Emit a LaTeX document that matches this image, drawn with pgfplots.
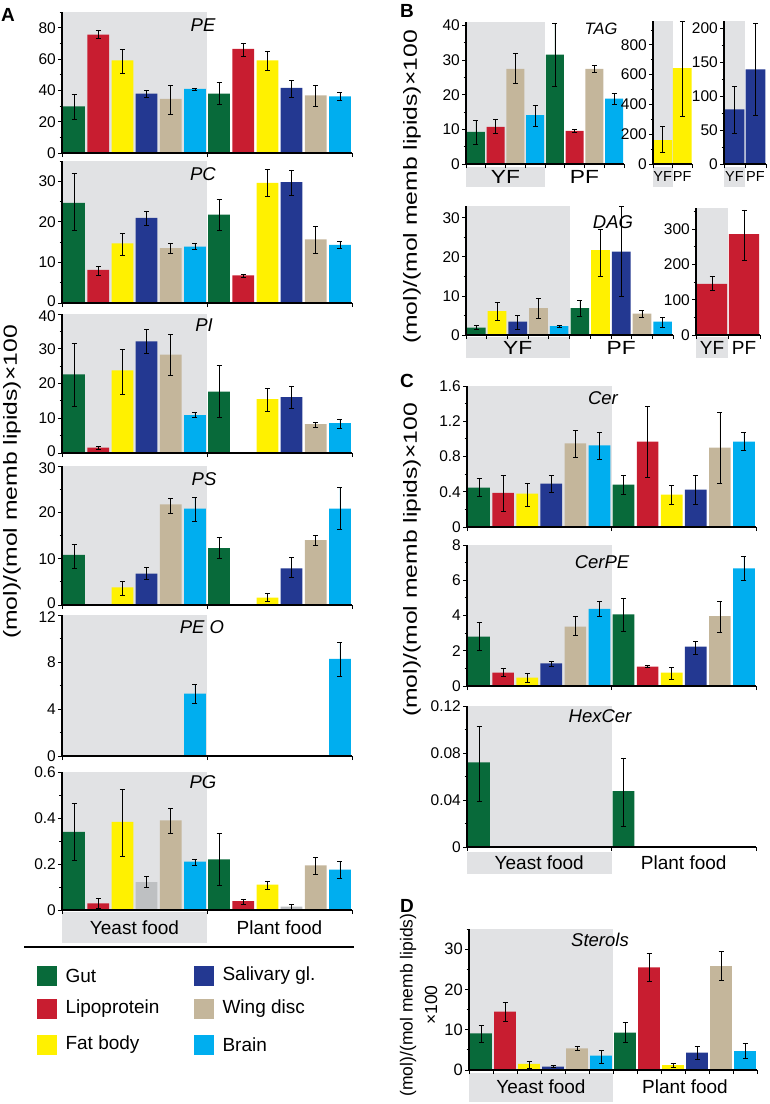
\documentclass[border=0pt]{standalone}
\usepackage{pgfplots}
\pgfplotsset{compat=1.18}
\usepackage{fontspec}
\setmainfont{Liberation Sans}
\setsansfont{Liberation Sans}
\definecolor{cG}{RGB}{8,106,58}
\definecolor{cR}{RGB}{200,29,48}
\definecolor{cY}{RGB}{255,241,0}
\definecolor{cB}{RGB}{35,56,145}
\definecolor{cW}{RGB}{196,182,155}
\definecolor{cC}{RGB}{0,174,239}
\definecolor{cK}{RGB}{190,192,194}
\definecolor{bg}{RGB}{225,226,228}
\newcommand\tA{\fontsize{15.5}{17}\selectfont}
\newcommand\tB{\fontsize{15.5}{17}\selectfont}
\newcommand\fT{\fontsize{18.5}{20}\selectfont\itshape}
\newcommand\fL{\fontsize{19}{21}\selectfont}
\newcommand\fS{\fontsize{14.5}{16}\selectfont}
\newcommand\fP{\fontsize{19}{21}\selectfont\bfseries}
\newcommand\up[1]{\raisebox{-3.5pt}[0pt][0pt]{#1}}
\newcommand\dn[1]{\raisebox{-7.5pt}[0pt][0pt]{#1}}
\pgfplotsset{
  L/.style={scale only axis, anchor=south west, clip=false, axis on top,
    axis x line*=bottom, axis y line*=left,
    axis line style={line width=1.2pt,-},
    every tick/.style={black,line width=0.8pt},
    tick align=outside, major tick length=4pt, minor tick length=2.5pt,
    xmin=0, ymin=0, xticklabels={}, scaled y ticks=false,
    yticklabel style={font=\tA, inner sep=0pt, xshift=-2pt, /pgf/number format/assume math mode=true}},
  LB/.style={L, yticklabel style={font=\tB}},
  B/.style={ybar, bar shift=0pt, bar width=0.9, draw=none,
    error bars/y dir=both, error bars/y explicit,
    error bars/error bar style={draw=black, line width=0.6pt},
    error bars/error mark options={draw=black, line width=0.6pt, mark size=2.5pt, rotate=90}},
}
\begin{document}
\begin{tikzpicture}
\useasboundingbox (0,0) rectangle (770pt,-1104pt);

% ---------------- Panel A ----------------
% PE
\begin{axis}[L, at={(62pt,-153pt)}, width=290pt, height=141pt, xmax=12, ymax=90,
  xtick={0,6,12}, ytick={0,20,40,60,80}, yticklabels={0,20,40,60,80}, minor ytick={10,30,50,70,90}]
\fill[bg] (axis cs:0,0) rectangle (axis cs:6,90);
\addplot[fill=cG,B] coordinates {(0.5,29.8) += (0,7.4) -= (0,8.1) (6.5,37.9) += (0,7.4) -= (0,6.6)};
\addplot[fill=cR,B] coordinates {(1.5,75.5) += (0,2.6) -= (0,2.5) (7.5,66.4) += (0,3.6) -= (0,4.7)};
\addplot[fill=cY,B] coordinates {(2.5,59.1) += (0,6.9) -= (0,8.5) (8.5,59.1) += (0,5.6) -= (0,6.3)};
\addplot[fill=cB,B] coordinates {(3.5,37.9) += (0,2.1) -= (0,2.2) (9.5,41.5) += (0,4.9) -= (0,5.8)};
\addplot[fill=cW,B] coordinates {(4.5,34.5) += (0,8.7) -= (0,9.8) (10.5,36.8) += (0,6.4) -= (0,7.0)};
\addplot[fill=cC,B] coordinates {(5.5,40.9) += (0,0.6) -= (0,0.7) (11.5,36.2) += (0,2.5) -= (0,2.8)};
\end{axis}
% PC
\begin{axis}[L, at={(62pt,-303pt)}, width=290pt, height=142pt, xmax=12, ymax=35,
  xtick={0,6,12}, ytick={0,10,20,30}, yticklabels={\up{0},10,20,30}, minor ytick={5,15,25,35}]
\fill[bg] (axis cs:0,0) rectangle (axis cs:6,35);
\addplot[fill=cG,B] coordinates {(0.5,24.7) += (0,7.3) -= (0,6.9) (6.5,21.8) += (0,3.7) -= (0,3.9)};
\addplot[fill=cR,B] coordinates {(1.5,8.15) += (0,0.85) -= (0,1.35) (7.5,6.8) += (0,0.2) -= (0,0.4)};
\addplot[fill=cY,B] coordinates {(2.5,14.7) += (0,2.5) -= (0,3.05) (8.5,29.6) += (0,3.4) -= (0,3.4)};
\addplot[fill=cB,B] coordinates {(3.5,21) += (0,1.7) -= (0,1.8) (9.5,29.8) += (0,3) -= (0,3.3)};
\addplot[fill=cW,B] coordinates {(4.5,13.5) += (0,1.2) -= (0,1.3) (10.5,15.7) += (0,3.2) -= (0,3.5)};
\addplot[fill=cC,B] coordinates {(5.5,13.9) += (0,0.8) -= (0,0.7) (11.5,14.3) += (0,0.9) -= (0,0.8)};
\end{axis}
% PI
\begin{axis}[L, at={(62pt,-453pt)}, width=290pt, height=139pt, xmax=12, ymax=40,
  xtick={0,6,12}, ytick={0,10,20,30,40}, yticklabels={\up{0},10,20,30,\dn{40}}, minor ytick={5,15,25,35}]
\fill[bg] (axis cs:0,0) rectangle (axis cs:6,40);
\addplot[fill=cG,B] coordinates {(0.5,22.6) += (0,8.9) -= (0,9.2) (6.5,17.7) += (0,7.5) -= (0,7.5)};
\addplot[fill=cR,B] coordinates {(1.5,1.55) += (0,0.35) -= (0,0.45) (7.5,0.2) += (0,0) -= (0,0)};
\addplot[fill=cY,B] coordinates {(2.5,23.8) += (0,6) -= (0,6.8) (8.5,15.5) += (0,3.2) -= (0,3.4)};
\addplot[fill=cB,B] coordinates {(3.5,32.1) += (0,3.5) -= (0,3.4) (9.5,16.1) += (0,3.2) -= (0,3.3)};
\addplot[fill=cW,B] coordinates {(4.5,28.3) += (0,5.9) -= (0,5.8) (10.5,8.3) += (0,0.6) -= (0,0.8)};
\addplot[fill=cC,B] coordinates {(5.5,10.9) += (0,0.9) -= (0,0.6) (11.5,8.6) += (0,1.2) -= (0,1.5)};
\end{axis}
% PS
\begin{axis}[L, at={(62pt,-605pt)}, width=290pt, height=139pt, xmax=12, ymax=30,
  xtick={0,6,12}, ytick={0,10,20,30}, yticklabels={\up{0},10,20,\dn{30}}, minor ytick={5,15,25}]
\fill[bg] (axis cs:0,0) rectangle (axis cs:6,30);
\addplot[fill=cG,B] coordinates {(0.5,10.8) += (0,2.3) -= (0,2.8) (6.5,12.3) += (0,2.3) -= (0,2.3)};
\addplot[fill=cY,B] coordinates {(2.5,3.8) += (0,1.4) -= (0,1.6) (8.5,1.6) += (0,0.9) -= (0,0.7)};
\addplot[fill=cB,B] coordinates {(3.5,6.8) += (0,1.3) -= (0,1.3) (9.5,7.9) += (0,2.3) -= (0,2.0)};
\addplot[fill=cW,B] coordinates {(4.5,21.7) += (0,1.4) -= (0,2.0) (10.5,14) += (0,1) -= (0,1.1)};
\addplot[fill=cC,B] coordinates {(5.5,20.8) += (0,2.5) -= (0,2.7) (11.5,20.8) += (0,4.5) -= (0,4.5)};
\end{axis}
% PE O
\begin{axis}[L, at={(62pt,-756pt)}, width=290pt, height=141pt, xmax=12, ymax=12,
  xtick={0,6,12}, ytick={0,4,8,12}, yticklabels={0,4,8,\dn{12}}, minor ytick={2,6,10}]
\fill[bg] (axis cs:0,0) rectangle (axis cs:6,12);
\addplot[fill=cC,B] coordinates {(5.5,5.3) += (0,0.8) -= (0,0.8) (11.5,8.26) += (0,1.4) -= (0,1.46)};
\end{axis}
% PG
\begin{axis}[L, at={(62pt,-910pt)}, width=290pt, height=138pt, xmax=12, ymax=0.6,
  xtick={0,6,12}, ytick={0,0.2,0.4,0.6}, yticklabels={0,0.2,0.4,0.6}, minor ytick={0.1,0.3,0.5}]
\fill[bg] (axis cs:0,0) rectangle (axis cs:6,0.6);
\fill[bg] ([yshift=-2pt]axis cs:0,0) rectangle ([yshift=-33pt]axis cs:6,0);
\node[font=\fL] at ([yshift=-17.5pt]axis cs:3,0) {Yeast food};
\node[font=\fL] at ([yshift=-17.5pt]axis cs:9,0) {Plant food};
\addplot[fill=cG,B] coordinates {(0.5,0.34) += (0,0.122) -= (0,0.126) (6.5,0.22) += (0,0.112) -= (0,0.112)};
\addplot[fill=cR,B] coordinates {(1.5,0.029) += (0,0.021) -= (0,0.021) (7.5,0.039) += (0,0.009) -= (0,0.013)};
\addplot[fill=cY,B] coordinates {(2.5,0.383) += (0,0.144) -= (0,0.149) (8.5,0.11) += (0,0.017) -= (0,0.02)};
\addplot[fill=cK,B] coordinates {(3.5,0.121) += (0,0.024) -= (0,0.024) (9.5,0.015) += (0,0.011) -= (0,0.012)};
\addplot[fill=cW,B] coordinates {(4.5,0.39) += (0,0.054) -= (0,0.055) (10.5,0.194) += (0,0.037) -= (0,0.039)};
\addplot[fill=cC,B] coordinates {(5.5,0.21) += (0,0.01) -= (0,0.016) (11.5,0.176) += (0,0.034) -= (0,0.039)};
\end{axis}

% ---------------- Panel B ----------------
% TAG main
\begin{axis}[LB, at={(466pt,-164pt)}, width=158pt, height=142pt, xmax=8, ymax=41,
  xtick={0,...,8}, ytick={0,10,20,30,40}, yticklabels={0,10,20,30,40}, minor ytick={5,15,25,35}]
\fill[bg] (axis cs:0,0) rectangle (axis cs:4,41);
\fill[bg] ([yshift=-3pt]axis cs:0,0) rectangle ([yshift=-23pt]axis cs:4,0);
\node[font=\fL] at ([yshift=-13pt]axis cs:2,0) {\scalebox{1.2}[1]{YF}};
\node[font=\fL] at ([yshift=-13pt]axis cs:6,0) {\scalebox{1.2}[1]{PF}};
\addplot[fill=cG,B] coordinates {(0.5,9.3) += (0,3.4) -= (0,3.5) (4.5,31.6) += (0,9.1) -= (0,9.3)};
\addplot[fill=cR,B] coordinates {(1.5,10.7) += (0,2.2) -= (0,1.9) (5.5,9.6) += (0,0.5) -= (0,0.4)};
\addplot[fill=cW,B] coordinates {(2.5,27.5) += (0,4.5) -= (0,4.3) (6.5,27.5) += (0,1) -= (0,0.9)};
\addplot[fill=cC,B] coordinates {(3.5,14.1) += (0,2.9) -= (0,3.2) (7.5,18.9) += (0,1.4) -= (0,1.6)};
\end{axis}
% TAG fat body inset
\begin{axis}[LB, at={(653pt,-164pt)}, width=39pt, height=143pt, xmax=2, ymax=960,
  xtick={0,1,2}, ytick={0,200,400,600,800}, yticklabels={0,200,400,600,800}, minor ytick={100,300,500,700,900}]
\fill[bg] (axis cs:0,0) rectangle (axis cs:1,960);
\fill[bg] ([yshift=-3pt]axis cs:0,0) rectangle ([yshift=-23pt]axis cs:1,0);
\node[font=\fS] at ([yshift=-13pt]axis cs:0.5,0) {YF};
\node[font=\fS] at ([yshift=-13pt]axis cs:1.5,0) {PF};
\addplot[fill=cY,B,bar width=0.95] coordinates {(0.5,161) += (0,90) -= (0,83) (1.5,643) += (0,314) -= (0,320)};
\end{axis}
% TAG salivary inset
\begin{axis}[LB, at={(724pt,-164pt)}, width=42pt, height=143pt, xmax=2, ymax=211,
  xtick={0,1,2}, ytick={0,50,100,150,200}, yticklabels={0,50,100,150,200}, minor ytick={25,75,125,175}]
\fill[bg] (axis cs:0,0) rectangle (axis cs:1,211);
\fill[bg] ([yshift=-3pt]axis cs:0,0) rectangle ([yshift=-23pt]axis cs:1,0);
\node[font=\fS] at ([yshift=-13pt]axis cs:0.5,0) {YF};
\node[font=\fS] at ([yshift=-13pt]axis cs:1.5,0) {PF};
\addplot[fill=cB,B,bar width=0.95] coordinates {(0.5,80.6) += (0,34.4) -= (0,35.6) (1.5,139.6) += (0,67.4) -= (0,67.6)};
\end{axis}
% DAG main
\begin{axis}[LB, at={(466pt,-335pt)}, width=207pt, height=129pt, xmax=10, ymax=33,
  xtick={0,...,10}, ytick={0,10,20,30}, yticklabels={0,10,20,30}, minor ytick={5,15,25}]
\fill[bg] (axis cs:0,0) rectangle (axis cs:5,33);
\fill[bg] ([yshift=-2pt]axis cs:0,0) rectangle ([yshift=-23pt]axis cs:5,0);
\node[font=\fL] at ([yshift=-13pt]axis cs:2.5,0) {\scalebox{1.2}[1]{YF}};
\node[font=\fL] at ([yshift=-13pt]axis cs:7.5,0) {\scalebox{1.2}[1]{PF}};
\addplot[fill=cG,B] coordinates {(0.5,1.9) += (0,0.5) -= (0,0.5) (5.5,6.9) += (0,2.05) -= (0,2.0)};
\addplot[fill=cY,B] coordinates {(1.5,6.1) += (0,2.2) -= (0,2.4) (6.5,21.7) += (0,5.3) -= (0,6.6)};
\addplot[fill=cB,B] coordinates {(2.5,3.4) += (0,1.6) -= (0,1.9) (7.5,21.3) += (0,11.5) -= (0,11.3)};
\addplot[fill=cW,B] coordinates {(3.5,6.9) += (0,2.5) -= (0,2.6) (8.5,5.5) += (0,0.7) -= (0,1.0)};
\addplot[fill=cC,B] coordinates {(4.5,2.3) += (0,0.2) -= (0,0.3) (9.5,3.4) += (0,1.1) -= (0,1.4)};
\end{axis}
% DAG lipoprotein inset
\begin{axis}[LB, at={(696pt,-335pt)}, width=64pt, height=127pt, xmax=2, ymax=360,
  xtick={0,1,2}, ytick={0,100,200,300}, yticklabels={0,100,200,300}, minor ytick={50,150,250,350}]
\fill[bg] (axis cs:0,0) rectangle (axis cs:1,360);
\fill[bg] ([yshift=-2pt]axis cs:0,0) rectangle ([yshift=-23pt]axis cs:1,0);
\node[font=\fL] at ([yshift=-13pt]axis cs:0.5,0) {YF};
\node[font=\fL] at ([yshift=-13pt]axis cs:1.5,0) {PF};
\addplot[fill=cR,B,bar width=0.95] coordinates {(0.5,144.8) += (0,20.8) -= (0,18.9) (1.5,285.8) += (0,69) -= (0,75)};
\end{axis}

% ---------------- Panel C ----------------
% Cer
\begin{axis}[LB, at={(467pt,-527pt)}, width=289pt, height=141pt, xmax=12, ymax=1.6,
  xtick={0,6,12}, ytick={0,0.4,0.8,1.2,1.6}, yticklabels={0,0.4,0.8,1.2,1.6}, minor ytick={0.2,0.6,1.0,1.4}]
\fill[bg] (axis cs:0,0) rectangle (axis cs:6,1.6);
\addplot[fill=cG,B] coordinates {(0.5,0.447) += (0,0.106) -= (0,0.098) (6.5,0.48) += (0,0.111) -= (0,0.105)};
\addplot[fill=cR,B] coordinates {(1.5,0.387) += (0,0.197) -= (0,0.209) (7.5,0.97) += (0,0.395) -= (0,0.401)};
\addplot[fill=cY,B] coordinates {(2.5,0.379) += (0,0.121) -= (0,0.144) (8.5,0.368) += (0,0.11) -= (0,0.114)};
\addplot[fill=cB,B] coordinates {(3.5,0.493) += (0,0.091) -= (0,0.099) (9.5,0.425) += (0,0.159) -= (0,0.171)};
\addplot[fill=cW,B] coordinates {(4.5,0.948) += (0,0.148) -= (0,0.152) (10.5,0.902) += (0,0.402) -= (0,0.409)};
\addplot[fill=cC,B] coordinates {(5.5,0.925) += (0,0.152) -= (0,0.152) (11.5,0.97) += (0,0.107) -= (0,0.102)};
\end{axis}
% CerPE
\begin{axis}[LB, at={(467pt,-686pt)}, width=289pt, height=141pt, xmax=12, ymax=8,
  xtick={0,6,12}, ytick={0,2,4,6,8}, yticklabels={0,2,4,6,8}, minor ytick={1,3,5,7}]
\fill[bg] (axis cs:0,0) rectangle (axis cs:6,8);
\addplot[fill=cG,B] coordinates {(0.5,2.8) += (0,0.79) -= (0,0.76) (6.5,4.07) += (0,0.9) -= (0,0.99)};
\addplot[fill=cR,B] coordinates {(1.5,0.76) += (0,0.24) -= (0,0.23) (7.5,1.1) += (0,0.05) -= (0,0.06)};
\addplot[fill=cY,B] coordinates {(2.5,0.47) += (0,0.23) -= (0,0.26) (8.5,0.76) += (0,0.28) -= (0,0.36)};
\addplot[fill=cB,B] coordinates {(3.5,1.29) += (0,0.13) -= (0,0.16) (9.5,2.23) += (0,0.32) -= (0,0.43)};
\addplot[fill=cW,B] coordinates {(4.5,3.37) += (0,0.56) -= (0,0.51) (10.5,3.97) += (0,0.85) -= (0,0.94)};
\addplot[fill=cC,B] coordinates {(5.5,4.37) += (0,0.41) -= (0,0.44) (11.5,6.68) += (0,0.69) -= (0,0.7)};
\end{axis}
% HexCer
\begin{axis}[LB, at={(467pt,-847pt)}, width=289pt, height=141pt, xmax=12, ymax=0.12,
  xtick={0,6,12}, ytick={0,0.04,0.08,0.12}, yticklabels={0,0.04,0.08,0.12}, minor ytick={0.02,0.06,0.10}]
\fill[bg] (axis cs:0,0) rectangle (axis cs:6,0.12);
\fill[bg] ([yshift=-5pt]axis cs:0,0) rectangle ([yshift=-27pt]axis cs:6,0);
\node[font=\fL] at ([yshift=-16pt]axis cs:3,0) {Yeast food};
\node[font=\fL] at ([yshift=-16pt]axis cs:9,0) {Plant food};
\addplot[fill=cG,B] coordinates {(0.5,0.072) += (0,0.031) -= (0,0.033) (6.5,0.0475) += (0,0.0284) -= (0,0.0296)};
\end{axis}

% ---------------- Panel D ----------------
\begin{axis}[LB, at={(469pt,-1070pt)}, width=288pt, height=141pt, xmax=12, ymax=35,
  xtick={0,...,12}, ytick={0,10,20,30}, yticklabels={0,10,20,30}, minor ytick={5,15,25,35},
  yticklabel style={font=\fontsize{16.5}{18}\selectfont}]
\fill[bg] (axis cs:0,0) rectangle (axis cs:6,35);
\fill[bg] ([yshift=-3pt]axis cs:0,0) rectangle ([yshift=-32pt]axis cs:6,0);
\node[font=\fL] at ([yshift=-17pt]axis cs:3,0) {Yeast food};
\node[font=\fL] at ([yshift=-17pt]axis cs:9,0) {Plant food};
\addplot[fill=cG,B] coordinates {(0.5,9.1) += (0,2.1) -= (0,2.2) (6.5,9.3) += (0,2.5) -= (0,2.5)};
\addplot[fill=cR,B] coordinates {(1.5,14.5) += (0,2.3) -= (0,2.5) (7.5,25.5) += (0,3.5) -= (0,3.5)};
\addplot[fill=cY,B] coordinates {(2.5,1.5) += (0,0.6) -= (0,1.1) (8.5,1.24) += (0,0.42) -= (0,0.58)};
\addplot[fill=cB,B] coordinates {(3.5,0.83) += (0,0.25) -= (0,0.17) (9.5,4.3) += (0,1.5) -= (0,1.6)};
\addplot[fill=cW,B] coordinates {(4.5,5.4) += (0,0.6) -= (0,0.6) (10.5,25.8) += (0,3.6) -= (0,3.6)};
\addplot[fill=cC,B] coordinates {(5.5,3.56) += (0,1.44) -= (0,1.9) (11.5,4.7) += (0,1.9) -= (0,1.8)};
\end{axis}

% ---------------- Texts ----------------
\node[font=\fP] at (8pt,-15pt) {A};
\node[font=\fP] at (407pt,-11pt) {B};
\node[font=\fP] at (407pt,-381pt) {C};
\node[font=\fP] at (407pt,-906pt) {D};
\node[font=\fT] at (203pt,-25pt) {PE};
\node[font=\fT] at (203pt,-174pt) {PC};
\node[font=\fT] at (204pt,-325pt) {PI};
\node[font=\fT] at (204pt,-479pt) {PS};
\node[font=\fT] at (202pt,-627pt) {PE O};
\node[font=\fT] at (203pt,-782pt) {PG};
\node[font=\fontsize{16.5}{18}\selectfont\itshape] at (601pt,-29pt) {TAG};
\node[font=\fT] at (613pt,-222pt) {DAG};
\node[font=\fT] at (603pt,-398pt) {Cer};
\node[font=\fT] at (602pt,-562pt) {CerPE};
\node[font=\fT] at (600pt,-716pt) {HexCer};
\node[font=\fT] at (600pt,-940pt) {Sterols};
\node[font=\fL, rotate=90] at (12pt,-482pt) {\scalebox{1.3}[1]{(mol)/(mol memb lipids)×100}};
\node[font=\fL, rotate=90] at (412pt,-187pt) {\scalebox{1.3}[1]{(mol)/(mol memb lipids)×100}};
\node[font=\fL, rotate=90] at (412pt,-560pt) {\scalebox{1.3}[1]{(mol)/(mol memb lipids)×100}};
\node[font=\fontsize{17.5}{19}\selectfont, rotate=90] at (408pt,-1005pt) {(mol)/(mol memb lipids)};
\node[font=\fontsize{17.5}{19}\selectfont, rotate=90] at (431pt,-1005pt) {×100};
% separator and legend
\draw[line width=2pt] (24pt,-947pt) -- (354pt,-947pt);
\fill[cG] (37pt,-966pt) rectangle (57pt,-986pt);
\fill[cR] (37pt,-999pt) rectangle (57pt,-1019pt);
\fill[cY] (37pt,-1035pt) rectangle (57pt,-1055pt);
\fill[cB] (194pt,-966pt) rectangle (214pt,-986pt);
\fill[cW] (194pt,-999pt) rectangle (214pt,-1019pt);
\fill[cC] (194pt,-1035pt) rectangle (214pt,-1055pt);
\node[font=\fL, anchor=west] at (62pt,-976pt) {Gut};
\node[font=\fL, anchor=west] at (62pt,-1009pt) {Lipoprotein};
\node[font=\fL, anchor=west] at (62pt,-1045pt) {Fat body};
\node[font=\fL, anchor=west] at (219pt,-976pt) {Salivary gl.};
\node[font=\fL, anchor=west] at (219pt,-1009pt) {Wing disc};
\node[font=\fL, anchor=west] at (219pt,-1045pt) {Brain};
\end{tikzpicture}
\end{document}
